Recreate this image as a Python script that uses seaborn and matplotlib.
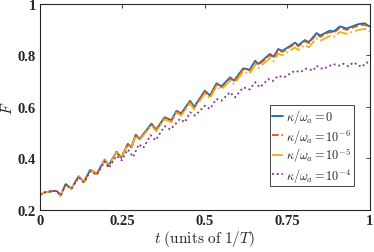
import numpy as np
import pandas as pd
import seaborn as sns
import matplotlib
matplotlib.use("Agg")
import matplotlib.pyplot as plt

sns.set_theme(style="white")
plt.rcParams["mathtext.fontset"] = "cm"
plt.rcParams["font.family"] = ["Liberation Serif", "DejaVu Serif"]

# ----------------------------
# Data
# ----------------------------
t_main = [0.000, 0.015, 0.040, 0.052, 0.062, 0.078, 0.095, 0.117, 0.133, 0.152,
          0.172, 0.196, 0.208, 0.232, 0.246, 0.266, 0.277, 0.290, 0.302, 0.338,
          0.352, 0.378, 0.398, 0.414, 0.428, 0.455, 0.467, 0.500, 0.515, 0.535,
          0.550, 0.576, 0.588, 0.616, 0.636, 0.652, 0.662, 0.697, 0.708, 0.722,
          0.735, 0.773, 0.783, 0.803, 0.815, 0.838, 0.850, 0.879, 0.890, 0.909,
          0.930, 0.965, 0.985, 0.995, 1.000]

F_k0 = [0.258, 0.268, 0.273, 0.272, 0.255, 0.300, 0.282, 0.330, 0.308, 0.355,
        0.340, 0.395, 0.372, 0.425, 0.402, 0.456, 0.443, 0.492, 0.475, 0.535,
        0.512, 0.560, 0.548, 0.585, 0.575, 0.624, 0.600, 0.663, 0.644, 0.692,
        0.680, 0.715, 0.702, 0.750, 0.745, 0.780, 0.767, 0.806, 0.795, 0.825,
        0.818, 0.850, 0.840, 0.860, 0.852, 0.887, 0.878, 0.897, 0.893, 0.913,
        0.905, 0.922, 0.925, 0.916, 0.913]

F_k6 = [0.258, 0.268, 0.273, 0.272, 0.255, 0.300, 0.282, 0.330, 0.308, 0.355,
        0.340, 0.395, 0.372, 0.425, 0.402, 0.455, 0.442, 0.491, 0.474, 0.533,
        0.510, 0.558, 0.546, 0.583, 0.572, 0.621, 0.597, 0.660, 0.641, 0.689,
        0.677, 0.712, 0.699, 0.747, 0.742, 0.776, 0.763, 0.802, 0.791, 0.821,
        0.814, 0.846, 0.836, 0.856, 0.848, 0.882, 0.873, 0.892, 0.888, 0.908,
        0.900, 0.917, 0.920, 0.911, 0.908]

F_k5 = [0.258, 0.268, 0.273, 0.272, 0.255, 0.299, 0.281, 0.329, 0.307, 0.353,
        0.338, 0.393, 0.370, 0.422, 0.399, 0.452, 0.439, 0.487, 0.470, 0.528,
        0.505, 0.552, 0.540, 0.577, 0.566, 0.614, 0.590, 0.652, 0.633, 0.680,
        0.668, 0.702, 0.689, 0.736, 0.730, 0.764, 0.751, 0.789, 0.778, 0.807,
        0.800, 0.831, 0.821, 0.840, 0.832, 0.866, 0.857, 0.876, 0.872, 0.891,
        0.884, 0.900, 0.903, 0.895, 0.895]

t_k4 = [0.000, 0.015, 0.040, 0.052, 0.062, 0.078, 0.095, 0.117, 0.133, 0.152,
        0.172, 0.196, 0.208, 0.232, 0.248, 0.266, 0.282, 0.300, 0.313, 0.335,
        0.350, 0.378, 0.395, 0.408, 0.424, 0.439, 0.455, 0.470, 0.500, 0.515,
        0.535, 0.550, 0.576, 0.591, 0.616, 0.636, 0.652, 0.667, 0.692, 0.705,
        0.722, 0.740, 0.773, 0.788, 0.808, 0.828, 0.838, 0.858, 0.889, 0.905,
        0.919, 0.935, 0.950, 0.975, 0.990, 1.000]

F_k4 = [0.258, 0.268, 0.273, 0.272, 0.255, 0.298, 0.281, 0.327, 0.305, 0.350,
        0.335, 0.388, 0.362, 0.410, 0.392, 0.435, 0.405, 0.455, 0.440, 0.490,
        0.470, 0.525, 0.512, 0.530, 0.553, 0.540, 0.579, 0.566, 0.605, 0.592,
        0.631, 0.624, 0.657, 0.637, 0.676, 0.668, 0.696, 0.676, 0.708, 0.700,
        0.721, 0.715, 0.741, 0.735, 0.749, 0.741, 0.760, 0.747, 0.767, 0.760,
        0.768, 0.758, 0.773, 0.755, 0.773, 0.768]

labels = [r"$\kappa/\omega_a = 0$", r"$\kappa/\omega_a = 10^{-6}$",
          r"$\kappa/\omega_a = 10^{-5}$", r"$\kappa/\omega_a = 10^{-4}$"]
colors = ["#0072BD", "#D95319", "#EDB120", "#7E2F8E"]
styles = ["-", "--", "-.", ":"]

series = [(t_main, F_k0), (t_main, F_k6), (t_main, F_k5), (t_k4, F_k4)]

# ----------------------------
# Plot
# ----------------------------
fig = plt.figure(figsize=(3.74, 2.53), dpi=100)
ax = fig.add_axes([0.107, 0.167, 0.882, 0.813])

for (t, F), lab, col, ls in zip(series, labels, colors, styles):
    sns.lineplot(x=t, y=F, ax=ax, color=col, linestyle=ls, linewidth=1.3,
                 label=lab, sort=False)

ax.set_xlim(0, 1)
ax.set_ylim(0.2, 1)
ax.set_xticks([0, 0.25, 0.5, 0.75, 1])
ax.set_xticklabels(["0", "0.25", "0.5", "0.75", "1"])
ax.set_yticks([0.2, 0.4, 0.6, 0.8, 1])
ax.set_yticklabels(["0.2", "0.4", "0.6", "0.8", "1"])
for lab in ax.get_xticklabels() + ax.get_yticklabels():
    lab.set_fontweight("bold")
    lab.set_fontsize(10.5)
ax.tick_params(direction="in", length=3, width=0.6, top=True, right=True,
               color="#262626", pad=3)
for sp in ax.spines.values():
    sp.set_color("#262626")
    sp.set_linewidth(0.8)

ax.set_xlabel(r"$t\ \mathrm{(units\ of\ }1/T\mathrm{)}$", fontsize=11, labelpad=1)
ax.set_ylabel(r"$F$", fontsize=11, labelpad=2)

leg = ax.legend(loc="lower right", bbox_to_anchor=(0.952, 0.115), fontsize=8.8,
                handlelength=0.9, handletextpad=0.25, borderpad=0.2,
                labelspacing=0.1, borderaxespad=0.0, fancybox=False,
                framealpha=1)
leg.get_frame().set_edgecolor("#262626")
leg.get_frame().set_linewidth(0.6)

fig.savefig("out.png", dpi=100)
